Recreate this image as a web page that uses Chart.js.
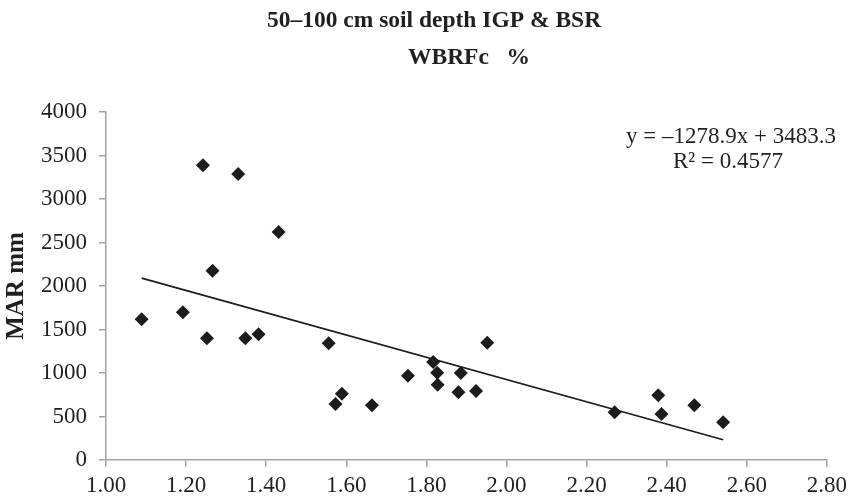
<!DOCTYPE html>
<html>
<head>
<meta charset="utf-8">
<script src="https://cdn.jsdelivr.net/npm/chart.js@4/dist/chart.umd.min.js"></script>
<style>
  html, body { margin: 0; padding: 0; background: #fff; }
  #wrap { width: 852px; height: 499px; position: relative; }
</style>
</head>
<body>
<div id="wrap"><canvas id="scatterChart"></canvas></div>
<script>
// WBRFc (%) vs MAR (mm), 50-100 cm soil depth, IGP & BSR
const wbrfc = [1.089, 1.192, 1.242, 1.252, 1.266, 1.330, 1.348, 1.381, 1.431, 1.556,
               1.573, 1.589, 1.664, 1.754, 1.817, 1.827, 1.828, 1.880, 1.886, 1.924,
               1.952, 2.270, 2.379, 2.387, 2.469, 2.541];
const mar = [1617, 1698, 3387, 1399, 2176, 3287, 1399, 1445, 2621, 1341,
             644, 762, 629, 969, 1126, 1003, 866, 778, 1000, 793,
             1349, 548, 744, 529, 629, 433];

// linear trendline as printed on the chart
const trendSlope = -1278.9;
const trendIntercept = 3483.3;
const trendLabel = ['y = \u20131278.9x + 3483.3', 'R\u00b2 = 0.4577'];

const titleLines = ['50\u2013100 cm soil depth IGP & BSR', 'WBRFc   %'];

const serif = '"Liberation Serif", "Times New Roman", serif';
const textColor = '#231f20';
const axisGrey = '#a3a3a3';

const points = wbrfc.map((x, i) => ({ x: x, y: mar[i] }));
const xMin = Math.min(...wbrfc), xMax = Math.max(...wbrfc);
const trendPoints = [xMin, xMax].map(x => ({ x: x, y: trendSlope * x + trendIntercept }));

// title + equation text drawn on the canvas
const textPlugin = {
  id: 'textPlugin',
  afterDraw(chart) {
    const ctx = chart.ctx;
    ctx.save();
    ctx.fillStyle = textColor;
    ctx.textAlign = 'center';
    ctx.textBaseline = 'alphabetic';
    ctx.font = 'bold 23.5px ' + serif;
    ctx.fillText(titleLines[0], 434, 27);
    ctx.fillText(titleLines[1], 469, 64);
    ctx.font = '23px ' + serif;
    ctx.fillText(trendLabel[0], 731, 143);
    ctx.fillText(trendLabel[1], 728, 168);
    ctx.restore();
  }
};

new Chart(document.getElementById('scatterChart'), {
  type: 'scatter',
  data: {
    datasets: [
      {
        label: 'MAR',
        data: points,
        pointStyle: 'rectRot',
        pointRadius: 7,
        pointHoverRadius: 7,
        backgroundColor: '#1c1c1c',
        borderColor: '#1c1c1c',
        borderWidth: 0
      },
      {
        type: 'line',
        label: 'Linear',
        data: trendPoints,
        borderColor: '#1c1c1c',
        borderWidth: 1.6,
        pointRadius: 0,
        fill: false
      }
    ]
  },
  options: {
    responsive: true,
    maintainAspectRatio: false,
    animation: false,
    layout: { padding: { top: 112, right: 23, bottom: 0, left: 0 } },
    plugins: {
      legend: { display: false },
      tooltip: { enabled: false }
    },
    scales: {
      x: {
        type: 'linear',
        min: 1.0,
        max: 2.8,
        ticks: {
          stepSize: 0.2,
          callback: v => v.toFixed(2),
          color: textColor,
          font: { family: serif, size: 23 },
          padding: 5
        },
        grid: { display: true, drawOnChartArea: false, drawTicks: true, tickLength: 7, color: axisGrey, lineWidth: 1.5 },
        border: { display: true, color: axisGrey, width: 1.5 },
        afterFit: s => { s.height = 39; }
      },
      y: {
        type: 'linear',
        min: 0,
        max: 4000,
        ticks: {
          stepSize: 500,
          callback: v => String(v),
          color: textColor,
          font: { family: serif, size: 23 },
          padding: 12
        },
        grid: { display: true, drawOnChartArea: false, drawTicks: true, tickLength: 7, color: axisGrey, lineWidth: 1.5 },
        border: { display: true, color: axisGrey, width: 1.5 },
        title: {
          display: true,
          text: 'MAR mm',
          color: textColor,
          font: { family: serif, size: 25, weight: 'bold' },
          padding: { top: 2, bottom: 0 }
        },
        afterFit: s => { s.width = 106; }
      }
    }
  },
  plugins: [textPlugin]
});
</script>
</body>
</html>
